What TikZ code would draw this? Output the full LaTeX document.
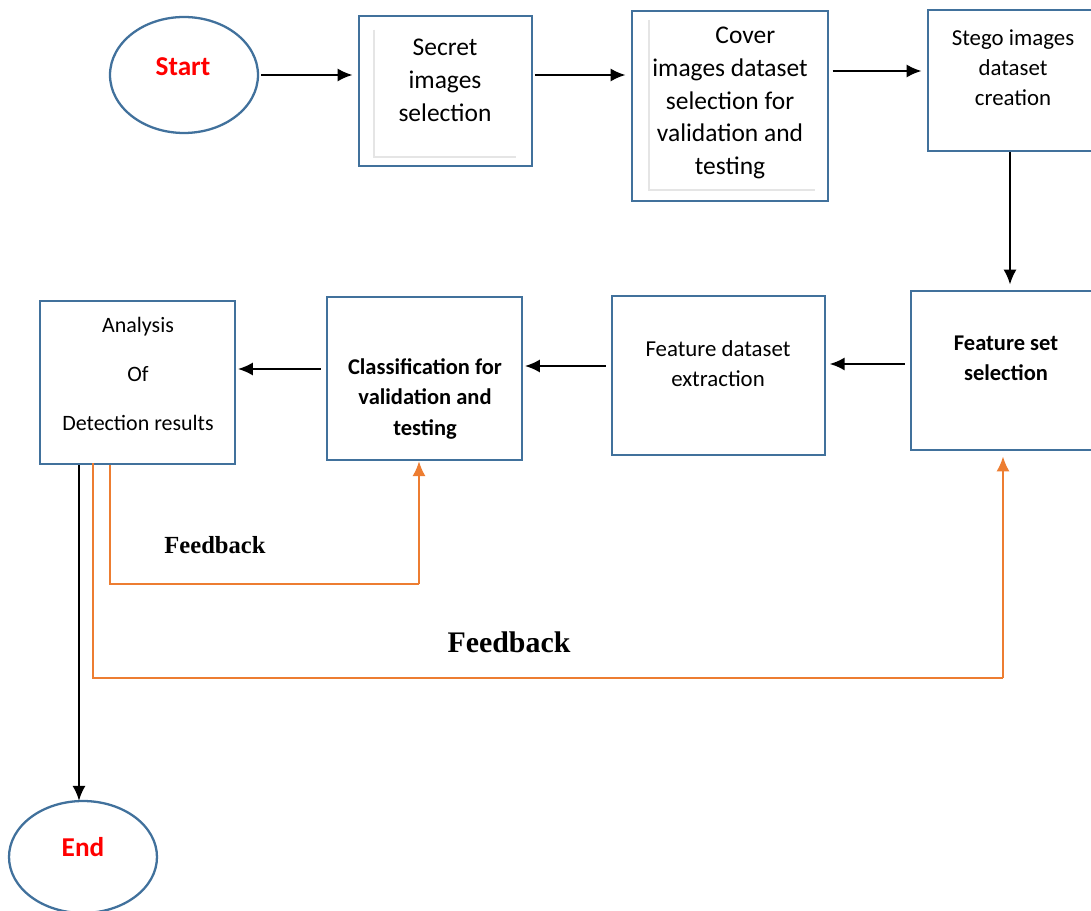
\documentclass[tikz,border=0pt]{standalone}
\usepackage{fontspec}
\setmainfont{Carlito}
\newfontfamily\fbfont{Liberation Serif}
\usetikzlibrary{positioning, shapes.geometric, arrows.meta, calc}
\definecolor{boxblue}{HTML}{41719C}
\definecolor{fborange}{HTML}{ED7D31}
\tikzset{
	stepbox/.style={
			rectangle,
			draw=boxblue,
			line width=1.4pt,
			fill=white,
			inner sep=0pt
		},
	termnode/.style={
			ellipse,
			draw=boxblue,
			line width=1.3pt,
			fill=white,
			inner sep=0pt,
			minimum width=2.96cm
		},
	termtext/.style={
			text=red,
			font=\fontsize{15.5}{18}\selectfont\bfseries
		},
	boxtext/.style={
			align=center,
			inner sep=0pt,
			font=\fontsize{14.5}{18.7}\selectfont
		},
	smalltext/.style={
			align=center,
			inner sep=0pt,
			font=\fontsize{13}{17}\selectfont
		},
	boldtext/.style={
			align=center,
			inner sep=0pt,
			font=\fontsize{12.8}{17.2}\selectfont\bfseries
		},
	shadowline/.style={
			draw=gray!20,
			line width=1.3pt
		},
	flowarrow/.style={
			line width=1.2pt,
			-{Latex[length=8.5pt,width=7.5pt]}
		},
	fbarrow/.style={
			draw=fborange,
			line width=1.2pt
		},
	fbtext/.style={
			font=\fbfont\bfseries
		}
}

\begin{document}
\begin{tikzpicture}[x=0.02cm, y=-0.02cm]
\useasboundingbox (0,0) rectangle (1091,911);

\node[termnode, minimum height=2.32cm] (start) at (184,75) {};
\node[termtext] (starttxt) at (183,67) {Start};

\node[stepbox, minimum width=3.46cm, minimum height=3.0cm] (secret) at (445.5,91) {};
\draw[shadowline] (374,30) -- (374,157) -- (516,157);
\node[boxtext] (secrettxt) at (445,80) {Secret\\images\\selection};

\node[stepbox, minimum width=3.92cm, minimum height=3.8cm] (cover) at (730,106) {};
\draw[shadowline] (649,20) -- (649,190) -- (815,190);
\node[boxtext] (covertxt) at (730,103) {\hspace*{1.2em}Cover\\images dataset\\selection for\\validation and\\testing};

\node[stepbox, minimum width=3.36cm, minimum height=2.82cm] (stego) at (1012,80.5) {};
\node[smalltext] (stegotxt) at (1013,68) {Stego images\\dataset\\creation};

\node[stepbox, minimum width=3.72cm, minimum height=3.18cm] (fsel) at (1004,370.5) {};
\node[boldtext] (fseltxt) at (1006,358) {Feature set\\selection};

\node[stepbox, minimum width=4.26cm, minimum height=3.18cm] (fext) at (718.5,375.5) {};
\node[smalltext] (fexttxt) at (718,364) {Feature dataset\\extraction};

\node[stepbox, minimum width=3.9cm, minimum height=3.26cm] (classif) at (424.5,378.5) {};
\node[boldtext] (classiftxt) at (425,399) {Classification for\\validation and\\testing};

\node[stepbox, minimum width=3.9cm, minimum height=3.26cm] (analysis) at (137.5,382.5) {};
\node[align=center, inner sep=0pt, font=\fontsize{12.5}{27.8}\selectfont] (analysistxt) at (138,374) {Analysis\\Of\\Detection results};

\node[termnode, minimum height=2.24cm] (endn) at (83,857) {};
\node[termtext] (endtxt) at (83,847) {End};

\draw[flowarrow] (start.east |- 0,75) ++(2,0) -- ([xshift=-3pt]secret.west |- 0,75);
\draw[flowarrow] ([xshift=1pt]secret.east |- 0,75) -- ([xshift=-3pt]cover.west |- 0,75);
\draw[flowarrow] ([xshift=2pt]cover.east |- 0,71) -- ([xshift=-3pt]stego.west |- 0,71);
\draw[flowarrow] (stego.south -| 1010,0) -- ([yshift=3pt]fsel.north -| 1010,0);
\draw[flowarrow] ([xshift=-3pt]fsel.west |- 0,364) -- ([xshift=2pt]fext.east |- 0,364);
\draw[flowarrow] ([xshift=-3pt]fext.west |- 0,366) -- ([xshift=1pt]classif.east |- 0,366);
\draw[flowarrow] ([xshift=-3pt]classif.west |- 0,369) -- ([xshift=1pt]analysis.east |- 0,369);
\draw[flowarrow] (analysis.south -| 79,0) -- ([yshift=-0.5pt]endn.north -| 79,0);

\draw[fbarrow] (analysis.south -| 110,0) -- (110,584) -- (419,584);
\draw[fbarrow, -{Latex[length=8.5pt,width=7.5pt]}] (419,584) -- (classif.south -| 419,0);
\node[fbtext, font=\fbfont\bfseries\fontsize{14}{16}\selectfont] (fbone) at (215,545) {Feedback};

\draw[fbarrow] ([yshift=1pt]analysis.south -| 93,0) -- (93,678) -- (1003,678);
\draw[fbarrow, -{Latex[length=8.5pt,width=7.5pt]}] (1003,678) -- ([yshift=-3pt]fsel.south -| 1003,0);
\node[fbtext, font=\fbfont\bfseries\fontsize{17}{19}\selectfont] (fbtwo) at (509,642) {Feedback};
\end{tikzpicture}
\end{document}
